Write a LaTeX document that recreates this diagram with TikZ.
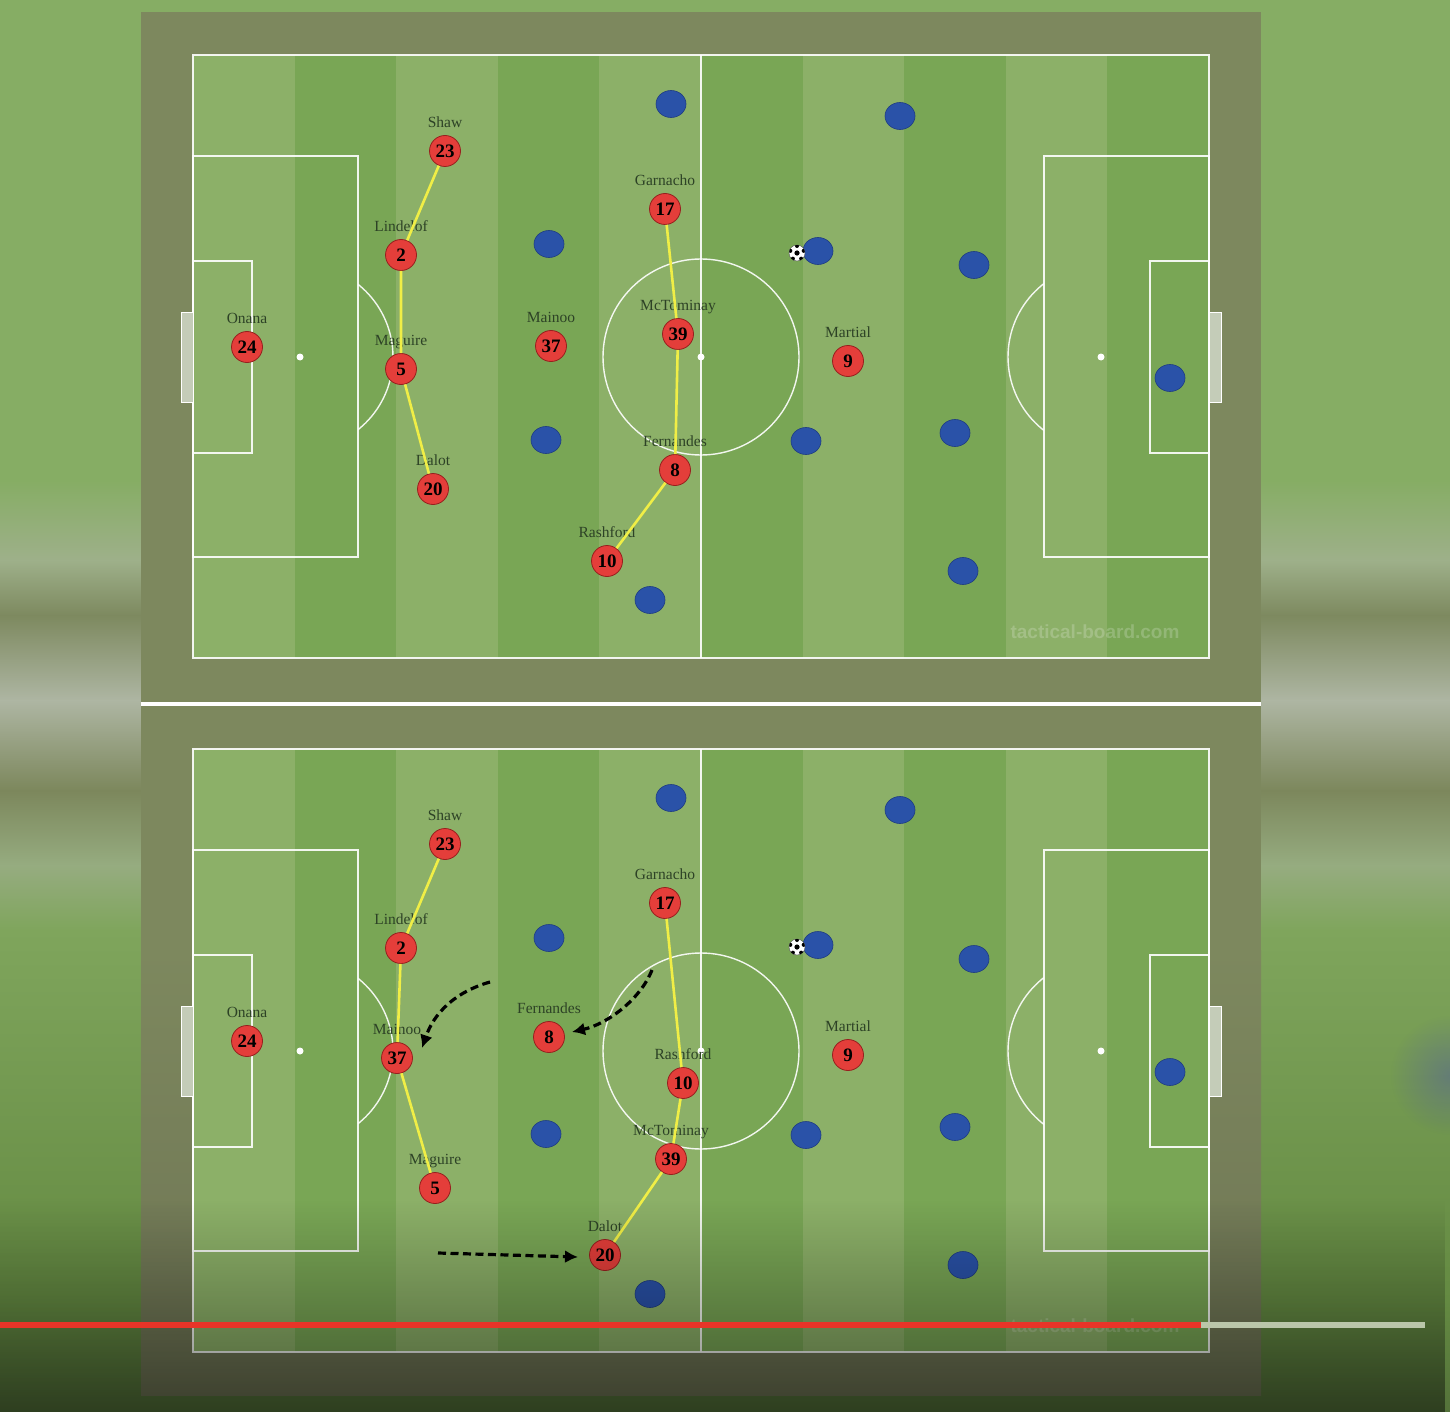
\documentclass[tikz,border=0pt]{standalone}
\usepackage{fontspec}
\setmainfont{Liberation Serif}
\newfontfamily\wmfont{Liberation Sans}
\usetikzlibrary{positioning,shapes.geometric,arrows.meta,fadings,calc}

\definecolor{pitchlight}{RGB}{140,176,104}
\definecolor{pitchdark}{RGB}{121,166,85}
\definecolor{framecol}{RGB}{125,136,94}
\definecolor{framelow}{RGB}{110,116,84}
\definecolor{redfill}{RGB}{228,62,58}
\definecolor{redline}{RGB}{150,32,30}
\definecolor{bluefill}{RGB}{42,82,168}
\definecolor{blueline}{RGB}{30,60,130}
\definecolor{namecol}{RGB}{45,66,38}
\definecolor{linkcol}{RGB}{240,238,70}
\definecolor{goalcol}{RGB}{196,204,184}
\definecolor{barred}{RGB}{232,52,40}
\definecolor{bargrey}{RGB}{186,198,170}
\definecolor{bgA}{RGB}{134,173,100}
\definecolor{bandL}{RGB}{158,176,138}
\definecolor{bandO}{RGB}{125,137,95}
\definecolor{bandG}{RGB}{174,182,163}
\definecolor{bandP}{RGB}{124,135,92}
\definecolor{bandM}{RGB}{150,172,128}
\definecolor{bgB}{RGB}{127,165,92}
\definecolor{bgC}{RGB}{100,138,66}
\definecolor{bgD}{RGB}{84,114,58}

\tikzfading[name=fade down, top color=transparent!100, bottom color=transparent!0]
\tikzfading[name=blur spot, inner color=transparent!0, outer color=transparent!100]

\tikzset{
  redman/.style={circle, draw=redline, line width=0.8pt, fill=redfill, minimum size=31pt,
    inner sep=0pt, text=black, font=\fontsize{19}{19}\selectfont\bfseries},
  blueman/.style={ellipse, draw=blueline, line width=0.6pt, fill=bluefill,
    minimum width=30pt, minimum height=27pt, inner sep=0pt},
  pname/.style={inner sep=0pt, text height=10.5pt, text depth=3pt, text=namecol,
    font=\fontsize{15.5}{15.5}\selectfont},
  link/.style={draw=linkcol, line width=2.6pt},
  pline/.style={draw=white, line width=1.4pt, opacity=0.9},
  run/.style={draw=black, line width=3.2pt, dash pattern=on 8pt off 4.5pt,
    -{Latex[length=13pt,width=13pt]}},
  wmark/.style={text=white, opacity=0.2, font=\wmfont\bfseries\fontsize{19}{19}\selectfont},
}

\begin{document}
\begin{tikzpicture}[x=1pt, y=-1pt]
  \useasboundingbox (0,0) rectangle (1450,1412);

  % blurred video behind the boards
  \foreach \ya/\yb/\ca/\cb in {0/481/bgA/bgA, 480/561/bgA/bandL, 560/616/bandL/bandO,
      615/701/bandO/bandG, 700/791/bandG/bandP, 790/866/bandP/bandM, 865/931/bandM/bgB,
      930/1301/bgB/bgC, 1300/1412/bgC/bgD}
    \shade[top color=\ca, bottom color=\cb] (0,\ya) rectangle (1450,\yb);
  \fill[blue!45!gray, opacity=0.35, path fading=blur spot] (1450,1075) circle[radius=60pt];

  % board frame
  \fill[framecol] (141,12) rectangle (1261,951);
  \shade[top color=framecol, bottom color=framelow] (141,950) rectangle (1261,1395);
  \fill[white] (141,701.5) rectangle (1261,705.5);

  % the two pitches
  \foreach \oy in {0,694} {
    \begin{scope}[shift={(0,\oy)}]
      \foreach \i in {0,2,4,6,8}
        \fill[pitchlight] ({193+101.6*\i},55) rectangle ({294.6+101.6*\i},658);
      \foreach \i in {1,3,5,7,9}
        \fill[pitchdark] ({193+101.6*\i},55) rectangle ({294.6+101.6*\i},658);
      \draw[pline, line width=2pt] (193,55) rectangle (1209,658);
      \draw[pline] (701,55) -- (701,658);
      \draw[pline] (701,357) circle[radius=98pt];
      \fill[white] (701,357) circle[radius=3.5pt];
      % left end
      \draw[pline] (193,156) rectangle (358,557);
      \draw[pline] (193,261) rectangle (252,453);
      \fill[white] (300,357) circle[radius=3.5pt];
      \begin{scope}
        \clip (358,250) rectangle (420,460);
        \draw[pline] (300,357) circle[radius=93pt];
      \end{scope}
      \draw[white, line width=0.8pt, fill=goalcol] (181,312) rectangle (193,402);
      % right end
      \draw[pline] (1044,156) rectangle (1209,557);
      \draw[pline] (1150,261) rectangle (1209,453);
      \fill[white] (1101,357) circle[radius=3.5pt];
      \begin{scope}
        \clip (980,250) rectangle (1044,460);
        \draw[pline] (1101,357) circle[radius=93pt];
      \end{scope}
      \draw[white, line width=0.8pt, fill=goalcol] (1209,312) rectangle (1221,402);
    \end{scope}
  }
  \node[wmark] (wmA) at (1095,632) {tactical-board.com};
  \node[wmark] (wmB) at (1095,1326) {tactical-board.com};

  % opponents
  \foreach \x/\y [count=\k] in {671/104, 900/116, 549/244, 818/251, 974/265, 1170/378,
      546/440, 806/441, 955/433, 963/571, 650/600} {
    \node[blueman] (oppA\k) at (\x,\y) {};
    \node[blueman] (oppB\k) at (\x,\y+694) {};
  }

  % top board: United players
  \node[redman] (onanaA) at (247,347) {24};
  \node[redman] (shawA) at (445,151) {23};
  \node[redman] (lindelofA) at (401,255) {2};
  \node[redman] (maguireA) at (401,369) {5};
  \node[redman] (dalotA) at (433,489) {20};
  \node[redman] (mainooA) at (551,346) {37};
  \node[redman] (garnachoA) at (665,209) {17};
  \node[redman] (mctominayA) at (678,334) {39};
  \node[redman] (fernandesA) at (675,470) {8};
  \node[redman] (rashfordA) at (607,561) {10};
  \node[redman] (martialA) at (848,361) {9};
  \node[pname, above=4pt of onanaA] (onanaAlab) {Onana};
  \node[pname, above=4pt of shawA] (shawAlab) {Shaw};
  \node[pname, above=4pt of lindelofA] (lindelofAlab) {Lindelof};
  \node[pname, above=4pt of maguireA] (maguireAlab) {Maguire};
  \node[pname, above=4pt of dalotA] (dalotAlab) {Dalot};
  \node[pname, above=4pt of mainooA] (mainooAlab) {Mainoo};
  \node[pname, above=4pt of garnachoA] (garnachoAlab) {Garnacho};
  \node[pname, above=4pt of mctominayA] (mctominayAlab) {McTominay};
  \node[pname, above=4pt of fernandesA] (fernandesAlab) {Fernandes};
  \node[pname, above=4pt of rashfordA] (rashfordAlab) {Rashford};
  \node[pname, above=4pt of martialA] (martialAlab) {Martial};
  \draw[link] (shawA) -- (lindelofA) -- (maguireA) -- (dalotA);
  \draw[link] (garnachoA) -- (mctominayA) -- (fernandesA) -- (rashfordA);

  % bottom board: United players
  \node[redman] (onanaB) at (247,1041) {24};
  \node[redman] (shawB) at (445,844) {23};
  \node[redman] (lindelofB) at (401,948) {2};
  \node[redman] (mainooB) at (397,1058) {37};
  \node[redman] (maguireB) at (435,1188) {5};
  \node[redman] (fernandesB) at (549,1037) {8};
  \node[redman] (garnachoB) at (665,903) {17};
  \node[redman] (rashfordB) at (683,1083) {10};
  \node[redman] (mctominayB) at (671,1159) {39};
  \node[redman] (dalotB) at (605,1255) {20};
  \node[redman] (martialB) at (848,1055) {9};
  \node[pname, above=4pt of onanaB] (onanaBlab) {Onana};
  \node[pname, above=4pt of shawB] (shawBlab) {Shaw};
  \node[pname, above=4pt of lindelofB] (lindelofBlab) {Lindelof};
  \node[pname, above=4pt of mainooB] (mainooBlab) {Mainoo};
  \node[pname, above=4pt of maguireB] (maguireBlab) {Maguire};
  \node[pname, above=4pt of fernandesB] (fernandesBlab) {Fernandes};
  \node[pname, above=4pt of garnachoB] (garnachoBlab) {Garnacho};
  \node[pname, above=4pt of rashfordB] (rashfordBlab) {Rashford};
  \node[pname, above=4pt of mctominayB] (mctominayBlab) {McTominay};
  \node[pname, above=4pt of dalotB] (dalotBlab) {Dalot};
  \node[pname, above=4pt of martialB] (martialBlab) {Martial};
  \draw[link] (shawB) -- (lindelofB) -- (mainooB) -- (maguireB);
  \draw[link] (garnachoB) -- (rashfordB) -- (mctominayB) -- (dalotB);

  % ball
  \foreach \bx/\by/\bn in {797/253/ballA, 797/947/ballB} {
    \node[circle, fill=white, draw=black!70, line width=0.4pt, minimum size=16pt,
      inner sep=0pt] (\bn) at (\bx,\by) {};
    \begin{scope}
      \clip (\bx,\by) circle[radius=8pt];
      \fill[black] (\bx,\by) circle[radius=2.6pt];
      \foreach \a in {18,90,162,234,306}
        \fill[black] ($(\bx,\by)+(\a:7pt)$) circle[radius=2pt];
    \end{scope}
  }

  % runs
  \coordinate (mainooRun) at (490,982);
  \coordinate (mainooTip) at (422,1048);
  \coordinate (fernRun) at (652,970);
  \coordinate (fernTip) at (572,1032);
  \coordinate (dalotRun) at (438,1253);
  \coordinate (dalotTip) at (578,1257);
  \draw[run] (mainooRun) .. controls (455,992) and (434,1013) .. (mainooTip);
  \draw[run] (fernRun) .. controls (640,1000) and (607,1024) .. (fernTip);
  \draw[run] (dalotRun) -- (dalotTip);

  % video overlay
  \fill[black, opacity=0.45, path fading=fade down] (0,1200) rectangle (1450,1412);
  \fill[barred] (0,1322) rectangle (1201,1327.5);
  \fill[bargrey] (1201,1322) rectangle (1425,1327.5);
\end{tikzpicture}
\end{document}
